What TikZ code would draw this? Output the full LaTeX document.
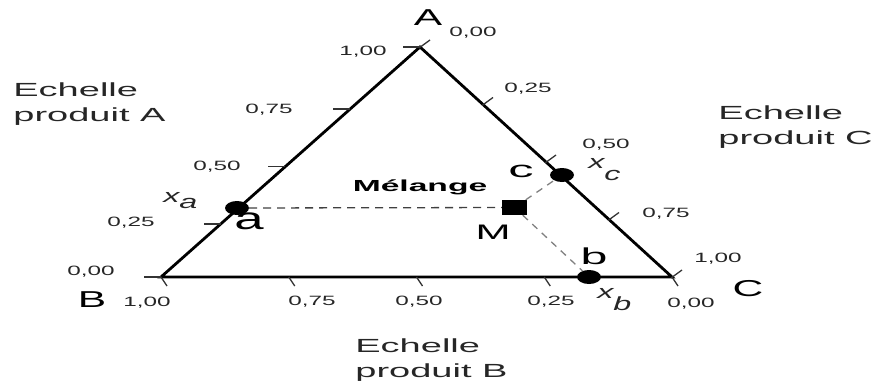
\documentclass[tikz,border=0pt]{standalone}
\usepackage{fontspec}
\setmainfont{Liberation Sans}
\usetikzlibrary{shapes.geometric,calc}
\begin{document}
\begin{tikzpicture}[x=1pt,y=-1pt,
  side/.style={line width=2.8pt},
  tickmark/.style={line width=1.3pt, black!80},
  ticklbl/.style={inner sep=0pt, font=\fontsize{13.5}{14}\selectfont, xscale=1.8, text=black!85},
  vertexlbl/.style={inner sep=0pt, font=\fontsize{23}{24}\selectfont, xscale=1.85},
  scalelbl/.style={inner sep=0pt, anchor=north west, align=left, font=\fontsize{19}{25}\selectfont, xscale=2, text=black!85},
  dot/.style={ellipse, fill=black, inner sep=0pt, minimum width=24pt, minimum height=14pt},
  mixbox/.style={rectangle, fill=black, inner sep=0pt, minimum width=25pt, minimum height=15pt},
  ptlbl/.style={inner sep=0pt, font=\fontsize{23}{24}\selectfont},
  xlbl/.style={inner sep=0pt, anchor=base west, font=\fontsize{19}{20}\selectfont\itshape, xscale=1.7, text=black!85},
  dashA/.style={dashed, dash pattern=on 8pt off 6pt, line width=1.3pt, black!75},
  dashB/.style={dashed, dash pattern=on 7pt off 6pt, line width=1.3pt, black!50}
]
\useasboundingbox (0,0) rectangle (876,381);

% triangle
\coordinate (A) at (420,47);
\coordinate (B) at (161,277);
\coordinate (C) at (672,277);
\draw[side] (A) -- (B) -- (C) -- cycle;

% ticks
\foreach \t in {0,0.23,0.48,0.73,1}
  \draw[tickmark] ($(B)!\t!(A)$) -- ++(-17,0);
\foreach \t in {0,0.25,0.5,0.75,1}
  \draw[tickmark] ($(A)!\t!(C)+(-1,1)$) -- ++(11,-8);
\foreach \t in {0,0.25,0.5,0.75,1}
  \draw[tickmark] ($(B)!\t!(C)$) -- ++(6,9);

% tick labels, scale A
\node[ticklbl] (a100) at (363,52) {1,00};
\node[ticklbl] (a075) at (269,110) {0,75};
\node[ticklbl] (a050) at (217,167) {0,50};
\node[ticklbl] (a025) at (131,223) {0,25};
\node[ticklbl] (a000) at (91,272) {0,00};
% scale C
\node[ticklbl] (c000) at (473,33) {0,00};
\node[ticklbl] (c025) at (528,89) {0,25};
\node[ticklbl] (c050) at (606,145) {0,50};
\node[ticklbl] (c075) at (666,214) {0,75};
\node[ticklbl] (c100) at (718,259) {1,00};
% scale B
\node[ticklbl] (b100) at (147,303) {1,00};
\node[ticklbl] (b075) at (312,302) {0,75};
\node[ticklbl] (b050) at (419,302) {0,50};
\node[ticklbl] (b025) at (551,302) {0,25};
\node[ticklbl] (b000) at (691,304) {0,00};

% vertex labels
\node[vertexlbl] (labA) at (428,18) {A};
\node[vertexlbl] (labB) at (92,300) {B};
\node[vertexlbl] (labC) at (748,289) {C};

% scale titles
\node[scalelbl] (echA) at (13,83) {Echelle\\produit A};
\node[scalelbl] (echC) at (718,106) {Echelle\\produit C};
\node[scalelbl] (echB) at (355,339) {Echelle\\produit B};

% points
\node[dot] (pa) at (237,208) {};
\node[dot] (pc) at (562,175) {};
\node[dot] (pb) at (589,277) {};
\node[mixbox] (M) at (514.5,207.5) {};

\draw[dashA] (pa) -- (M);
\draw[dashB] (M) -- (pc);
\draw[dashB] (M) -- (pb);

% point labels
\node[ptlbl, font=\fontsize{31}{32}\selectfont, xscale=1.7] (la) at (249,221) {a};
\node[ptlbl, xscale=2.1] (lb) at (594,256) {b};
\node[ptlbl, xscale=2.2] (lc) at (521,171) {c};
\node[ptlbl, font=\fontsize{21}{22}\selectfont, xscale=2] (lM) at (493,232) {M};
\node[inner sep=0pt, font=\fontsize{16}{17}\selectfont\bfseries, xscale=2.1] (mel) at (420,187) {Mélange};

\node[xlbl] (xa) at (163,202) {x\raisebox{-6pt}{a}};
\node[xlbl] (xc) at (588,168) {x\raisebox{-12pt}{c}};
\node[xlbl] (xb) at (597,298) {x\raisebox{-12pt}{b}};
\end{tikzpicture}
\end{document}
